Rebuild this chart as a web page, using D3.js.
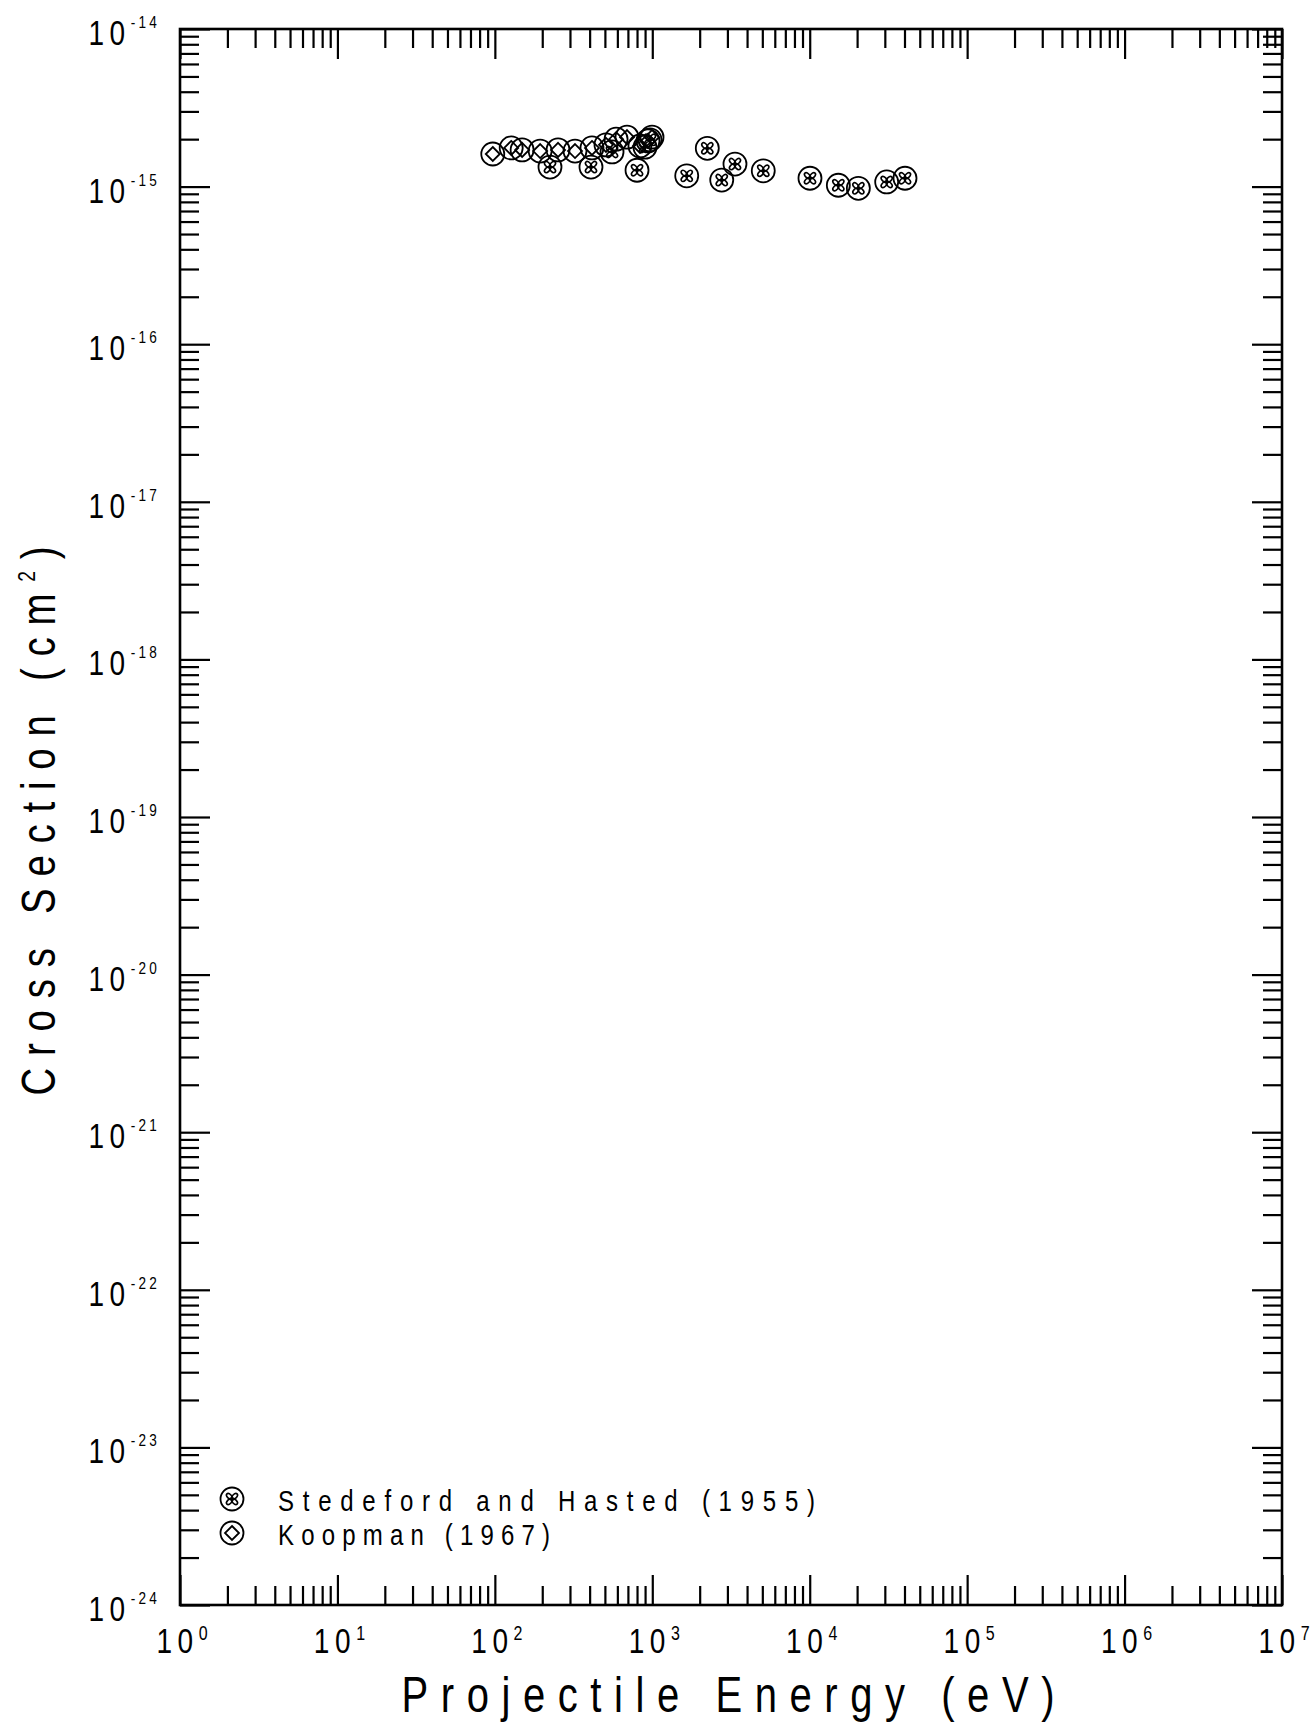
<!DOCTYPE html>
<html>
<head>
<meta charset="utf-8">
<script src="https://cdn.jsdelivr.net/npm/d3@7"></script>
<style>
  body { margin: 0; background: #fff; }
  svg { display: block; }
  text { font-family: "Liberation Sans", Arial, sans-serif; fill: #000; }
</style>
</head>
<body>
<svg id="chart" width="1313" height="1727"></svg>
<script>
// Axis decades (powers of ten)
const energyDecades = [0, 1, 2, 3, 4, 5, 6, 7];
const sectionDecades = [-24, -23, -22, -21, -20, -19, -18, -17, -16, -15, -14];

// Stedeford and Hasted (1955): energy (eV), cross section (cm^2)
const stedefordEnergy = [224, 408, 555, 800, 899, 967, 1655, 2236, 2762, 3352, 5070, 10040, 15200, 20370, 30830, 40300];
const stedefordSection = [1.33e-15, 1.33e-15, 1.66e-15, 1.27e-15, 1.78e-15, 1.98e-15, 1.17e-15, 1.75e-15, 1.10e-15, 1.39e-15, 1.26e-15, 1.13e-15, 1.02e-15, 0.975e-15, 1.07e-15, 1.13e-15];

// Koopman (1967)
const koopmanEnergy = [97, 127, 149, 194, 252, 323, 414, 508, 589, 691, 835, 939, 996];
const koopmanSection = [1.61e-15, 1.76e-15, 1.71e-15, 1.68e-15, 1.71e-15, 1.68e-15, 1.76e-15, 1.84e-15, 2.00e-15, 2.06e-15, 1.81e-15, 1.95e-15, 2.06e-15];

const seriesNames = ["Stedeford and Hasted (1955)", "Koopman (1967)"];
const xTitle = "Projectile Energy (eV)";
const yTitleMain = "Cross Section (cm";
const yTitleSup = "2";
const yTitleEnd = ")";

const svg = d3.select("#chart");
const plotLeft = 180, plotRight = 1282, plotTop = 29, plotBottom = 1605;

const x = d3.scaleLog().domain([1, 1e7]).range([plotLeft, plotRight]);
const y = d3.scaleLog().domain([1e-24, 1e-14]).range([plotBottom, plotTop]);

const majorLen = 30, minorLen = 19;

function minorValues(decades) {
  const out = [];
  for (let i = 0; i < decades.length - 1; i++) {
    for (let m = 2; m <= 9; m++) out.push(m * Math.pow(10, decades[i]));
  }
  return out;
}
const xMajor = energyDecades.map(d => Math.pow(10, d));
const yMajor = sectionDecades.map(d => Math.pow(10, d));
const xMinor = minorValues(energyDecades);
const yMinor = minorValues(sectionDecades);

function drawAxis(axisFn, scale, values, len, transform) {
  const g = svg.append("g").attr("transform", transform)
    .call(axisFn(scale).tickValues(values).tickSize(-len).tickFormat(""));
  g.select(".domain").remove();
  g.selectAll(".tick line").attr("stroke", "#000").attr("stroke-width", 2.2);
}

drawAxis(d3.axisBottom, x, xMajor, majorLen, `translate(0,${plotBottom})`);
drawAxis(d3.axisBottom, x, xMinor, minorLen, `translate(0,${plotBottom})`);
drawAxis(d3.axisTop, x, xMajor, majorLen, `translate(0,${plotTop})`);
drawAxis(d3.axisTop, x, xMinor, minorLen, `translate(0,${plotTop})`);
drawAxis(d3.axisLeft, y, yMajor, majorLen, `translate(${plotLeft},0)`);
drawAxis(d3.axisLeft, y, yMinor, minorLen, `translate(${plotLeft},0)`);
drawAxis(d3.axisRight, y, yMajor, majorLen, `translate(${plotRight},0)`);
drawAxis(d3.axisRight, y, yMinor, minorLen, `translate(${plotRight},0)`);

// plot frame
svg.append("rect")
  .attr("x", plotLeft).attr("y", plotTop)
  .attr("width", plotRight - plotLeft).attr("height", plotBottom - plotTop)
  .attr("fill", "none").attr("stroke", "#000").attr("stroke-width", 2.6);

const sx = 0.8; // narrow lettering

// x tick labels: 10 with superscript exponent
energyDecades.forEach(d => {
  const g = svg.append("g").attr("transform", `translate(${x(Math.pow(10, d)) + 2},1653) scale(${sx},1)`);
  const t = g.append("text").attr("text-anchor", "middle").attr("font-size", 35);
  t.append("tspan").attr("letter-spacing", 7).text("10");
  t.append("tspan").attr("font-size", 20).attr("dy", -13).text(String(d));
});

// y tick labels
sectionDecades.forEach(d => {
  const g = svg.append("g").attr("transform", `translate(160,${y(Math.pow(10, d)) + 16}) scale(${sx},1)`);
  const t = g.append("text").attr("text-anchor", "end").attr("font-size", 35);
  t.append("tspan").attr("letter-spacing", 7).text("10");
  t.append("tspan").attr("font-size", 17).attr("dy", -17).attr("letter-spacing", 4).text("-" + Math.abs(d));
});

// axis titles
{
  const g = svg.append("g").attr("transform", `translate(728,1712) scale(${sx},1)`);
  g.append("text").attr("text-anchor", "middle").attr("font-size", 50)
    .attr("textLength", 653 / sx).attr("lengthAdjust", "spacing").text(xTitle);
}
{
  const g = svg.append("g").attr("transform", `translate(55,821) rotate(-90) scale(${sx},1)`);
  const t = g.append("text").attr("text-anchor", "middle").attr("font-size", 48)
    .attr("textLength", 549 / sx).attr("lengthAdjust", "spacing");
  t.append("tspan").text(yTitleMain);
  t.append("tspan").attr("font-size", 24).attr("dy", -20).text(yTitleSup);
  t.append("tspan").attr("dy", 20).text(yTitleEnd);
}

// markers
const markerR = 11.5;
function stedefordMarker(g) {
  g.append("circle").attr("r", markerR).attr("fill", "none").attr("stroke", "#000").attr("stroke-width", 1.8);
  [45, 135, 225, 315].forEach(a => {
    g.append("ellipse").attr("transform", `rotate(${a}) translate(3.6,0)`)
      .attr("rx", 3.6).attr("ry", 2.1)
      .attr("fill", "none").attr("stroke", "#000").attr("stroke-width", 1.6);
  });
}
function koopmanMarker(g) {
  g.append("circle").attr("r", markerR).attr("fill", "none").attr("stroke", "#000").attr("stroke-width", 1.8);
  g.append("path").attr("d", "M0,-7L7,0L0,7L-7,0Z")
    .attr("fill", "none").attr("stroke", "#000").attr("stroke-width", 1.8);
}

const koopman = koopmanEnergy.map((e, i) => ({ e, s: koopmanSection[i] }));
const stedeford = stedefordEnergy.map((e, i) => ({ e, s: stedefordSection[i] }));

svg.append("g").selectAll("g").data(koopman).join("g")
  .attr("transform", d => `translate(${x(d.e)},${y(d.s)})`)
  .each(function () { koopmanMarker(d3.select(this)); });

svg.append("g").selectAll("g").data(stedeford).join("g")
  .attr("transform", d => `translate(${x(d.e)},${y(d.s)})`)
  .each(function () { stedefordMarker(d3.select(this)); });

// legend
const legend = [
  { name: seriesNames[0], draw: stedefordMarker, y: 1499, width: 537 },
  { name: seriesNames[1], draw: koopmanMarker, y: 1533, width: 272 }
];
legend.forEach(l => {
  const g = svg.append("g").attr("transform", `translate(232,${l.y})`);
  l.draw(g);
  const tg = svg.append("g").attr("transform", `translate(278,${l.y + 12}) scale(${sx},1)`);
  tg.append("text").attr("font-size", 30)
    .attr("textLength", l.width / sx).attr("lengthAdjust", "spacing").text(l.name);
});
</script>
</body>
</html>
